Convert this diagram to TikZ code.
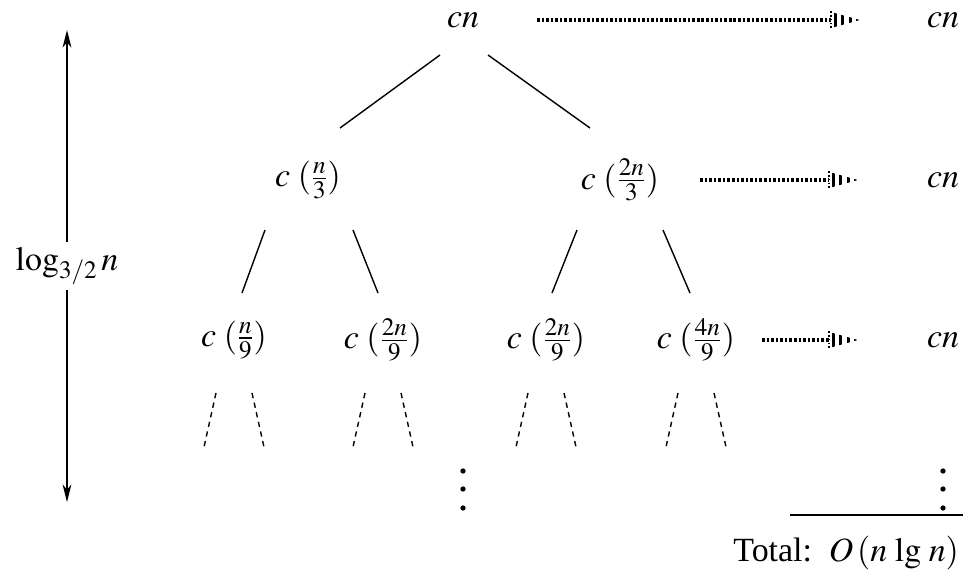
\documentclass[tikz,border=0pt]{standalone}
\usepackage{mathptmx}
\usepackage{fontspec}
\setmainfont{Liberation Serif}
\usetikzlibrary{arrows.meta,calc}

\tikzset{
  edge/.style={line width=0.8pt},
  subedge/.style={line width=0.8pt, dash pattern=on 3pt off 2.6pt},
  dotline/.style={line width=1.8pt, dash pattern=on 1.5pt off 1.1pt},
}
% dotted arrow with a striped head ending at #2
\newcommand\dotarrow[2]{%
  \draw[dotline] (#1) -- ($(#2)+(-29,0)$);
  \begin{scope}
    \clip ($(#2)+(-29,-8)$) -- (#2) -- ($(#2)+(-29,8)$) -- cycle;
    \draw[line width=10pt, dash pattern=on 1.6pt off 2.6pt] ($(#2)+(-26,0)$) -- (#2);
  \end{scope}
  \draw[line width=0.8pt, dash pattern=on 1pt off 1.2pt] ($(#2)+(-29,-9)$) -- ($(#2)+(-29,9)$);
}

\begin{document}
\begin{tikzpicture}[x=0.02cm, y=-0.02cm, font=\fontsize{19.3}{23}\selectfont]
    \useasboundingbox (0,0) rectangle (963,579);

    % recursion tree
    \node (root) at (463,20) {$cn$};
    \node (a1) at (308,180) {$c\;(\frac{n}{3})$};
    \node (a2) at (620,180) {$c\;(\frac{2n}{3})$};
    \node (b1) at (234,340) {$c\;(\frac{n}{9})$};
    \node (b2) at (383,340) {$c\;(\frac{2n}{9})$};
    \node (b3) at (546,340) {$c\;(\frac{2n}{9})$};
    \node (b4) at (696,340) {$c\;(\frac{4n}{9})$};

    \draw[edge] ($(root)+(-23,35)$) -- ($(a1)+(32,-52)$);
    \draw[edge] ($(root)+(25,35)$) -- ($(a2)+(-30,-52)$);
    \draw[edge] ($(a1)+(-43,50)$) -- ($(b1)+(8,-47)$);
    \draw[edge] ($(a1)+(45,50)$) -- ($(b2)+(-5,-47)$);
    \draw[edge] ($(a2)+(-43,50)$) -- ($(b3)+(6,-47)$);
    \draw[edge] ($(a2)+(43,50)$) -- ($(b4)+(-6,-47)$);

    \foreach \b in {b1,b2,b3,b4} {
        \draw[subedge] ($(\b)+(-18,53)$) -- ($(\b)+(-30,107)$);
        \draw[subedge] ($(\b)+(18,53)$) -- ($(\b)+(30,107)$);
    }

    % row sums
    \node (s0) at (943,20) {$cn$};
    \node (s1) at (943,180) {$cn$};
    \node (s2) at (943,340) {$cn$};

    \coordinate (p0) at (537,20);  \coordinate (q0) at (860,20);
    \coordinate (p1) at (700,180); \coordinate (q1) at (858,180);
    \coordinate (p2) at (762,340); \coordinate (q2) at (858,340);
    \dotarrow{p0}{q0}
    \dotarrow{p1}{q1}
    \dotarrow{p2}{q2}

    \foreach \x in {463,943}
        \foreach \y in {471,489,508}
            \fill (\x,\y) circle (1.5pt);

    % height of the tree
    \coordinate (top) at (67,30);
    \coordinate (bot) at (67,502);
    \draw[edge, {Stealth[length=10pt,width=5pt,inset=3pt]}-{Stealth[length=10pt,width=5pt,inset=3pt]}]
        (top) -- (bot) node[midway, fill=white, inner sep=3pt] (h) {$\log_{3/2} n$};

    % total
    \coordinate (r0) at (790,515);
    \coordinate (r1) at (963,515);
    \draw[edge] (r0) -- (r1);
    \node[anchor=east, inner sep=1pt] (total) at (961,553) {Total:\ \ $O\,(n\,\lg\,n)$};
\end{tikzpicture}
\end{document}
